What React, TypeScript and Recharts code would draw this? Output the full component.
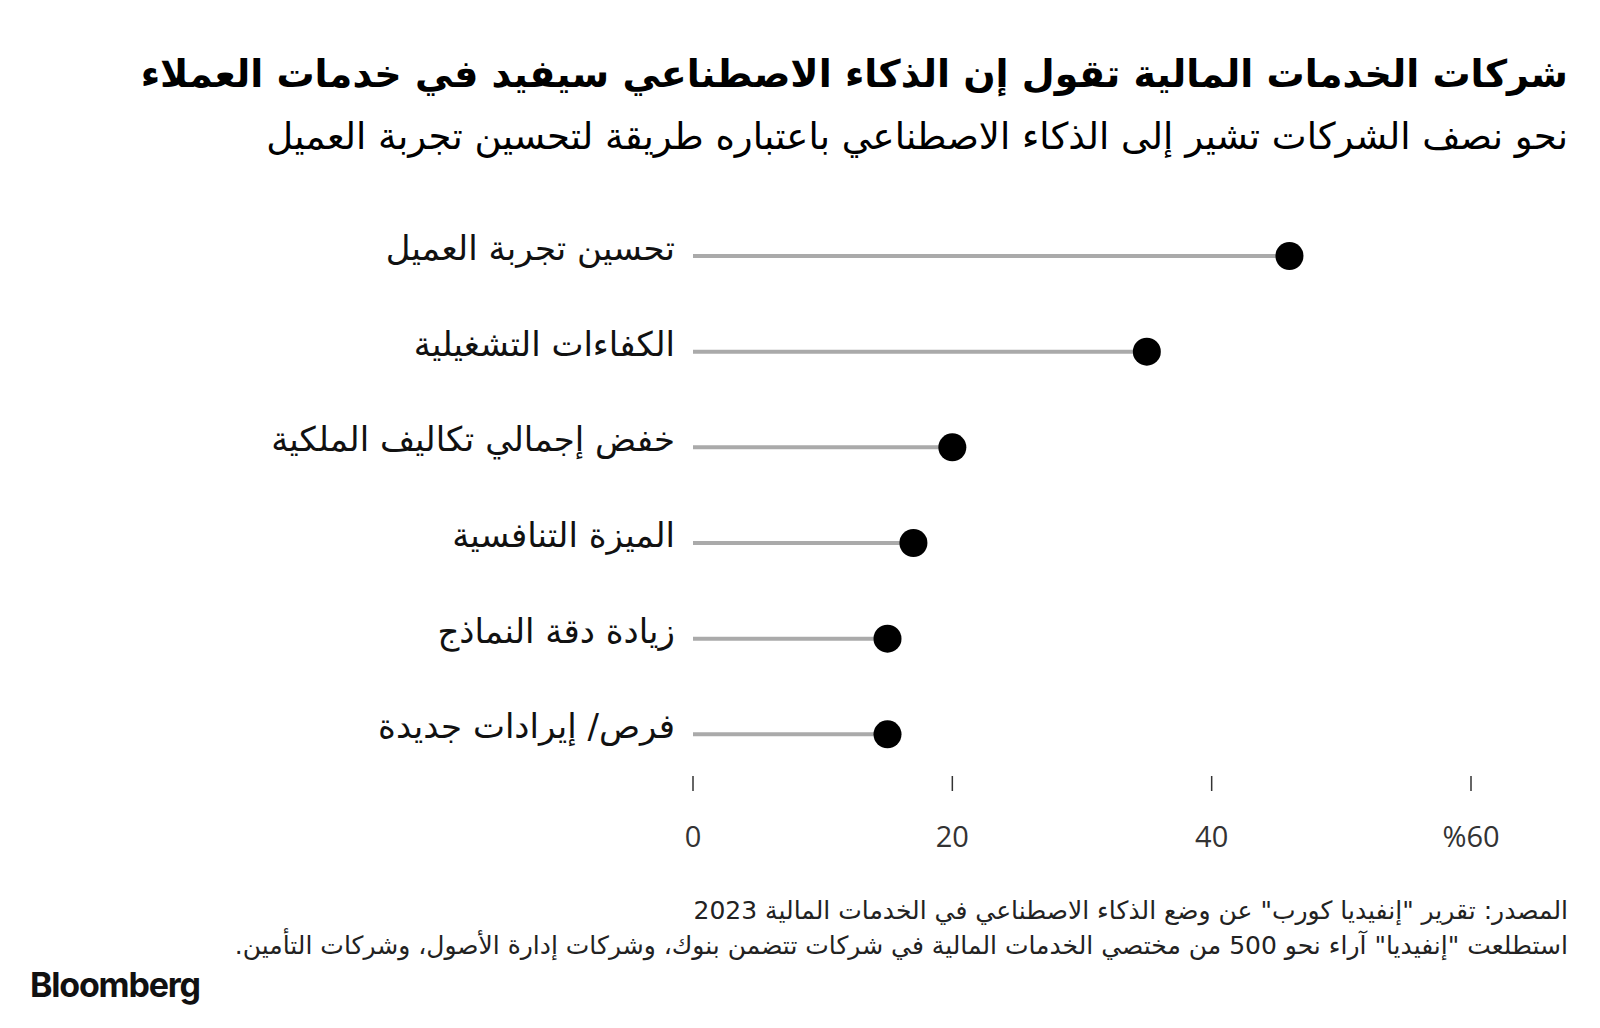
import { ComposedChart, Bar, XAxis, YAxis } from "recharts";

const categories = [
  "تحسين تجربة العميل",
  "الكفاءات التشغيلية",
  "خفض إجمالي تكاليف الملكية",
  "الميزة التنافسية",
  "زيادة دقة النماذج",
  "فرص/ إيرادات جديدة",
];
const shares = [46, 35, 20, 17, 15, 15];
const xTicks = [0, 20, 40, 60];
const xTickLabels = ["0", "20", "40", "%60"];

const title = "شركات الخدمات المالية تقول إن الذكاء الاصطناعي سيفيد في خدمات العملاء";
const subtitle = "نحو نصف الشركات تشير إلى الذكاء الاصطناعي باعتباره طريقة لتحسين تجربة العميل";
const sourceNote = "المصدر: تقرير \"إنفيديا كورب\" عن وضع الذكاء الاصطناعي في الخدمات المالية 2023";
const surveyNote = "استطلعت \"إنفيديا\" آراء نحو 500 من مختصي الخدمات المالية في شركات تتضمن بنوك، وشركات إدارة الأصول، وشركات التأمين.";

const data = categories.map((name, i) => ({ name, value: shares[i] }));

const arabicFont = "'DejaVu Sans', sans-serif";

// lollipop: grey stem from zero, black dot at the value
function Lollipop(props: any) {
  const { x, y, width, height } = props;
  const cy = y + height / 2;
  return (
    <g>
      <line x1={x} x2={x + width} y1={cy} y2={cy} stroke="#aaaaaa" strokeWidth={4} />
      <circle cx={x + width} cy={cy} r={14} fill="#000" />
    </g>
  );
}

function CategoryTick(props: any) {
  const { x, y, payload } = props;
  return (
    <text x={x - 10} y={y + 4} textAnchor="end" fontSize={34} fill="#111" fontFamily={arabicFont}>
      {payload.value}
    </text>
  );
}

function ValueTick(props: any) {
  const { x, y, index } = props;
  return (
    <g>
      <line x1={x} x2={x} y1={y - 6} y2={y + 9} stroke="#333" strokeWidth={1.5} />
      <text x={x} y={y + 65} textAnchor="middle" fontSize={29} fill="#333" fontFamily="'Open Sans', sans-serif">
        {xTickLabels[index]}
      </text>
    </g>
  );
}

export default function App() {
  return (
    <div style={{ position: "absolute", left: 0, top: 0, width: 1600, height: 1028, background: "#fff", overflow: "hidden" }}>
      <div
        dir="rtl"
        style={{ position: "absolute", right: 32, top: 49, fontFamily: arabicFont, fontWeight: 700, fontSize: 38, color: "#000", whiteSpace: "nowrap", lineHeight: "50px" }}
      >
        {title}
      </div>
      <div
        dir="rtl"
        style={{ position: "absolute", right: 32, top: 112, fontFamily: arabicFont, fontSize: 37, color: "#000", whiteSpace: "nowrap", lineHeight: "50px" }}
      >
        {subtitle}
      </div>

      <div style={{ position: "absolute", left: 0, top: 0 }}>
        <ComposedChart
          width={1600}
          height={900}
          layout="vertical"
          data={data}
          margin={{ top: 208, right: 129, bottom: 38, left: 0 }}
        >
          <XAxis
            type="number"
            domain={[0, 60]}
            ticks={xTicks}
            axisLine={false}
            tickLine={false}
            tickSize={0}
            tickMargin={0}
            height={80}
            tick={<ValueTick />}
          />
          <YAxis
            type="category"
            dataKey="name"
            width={693}
            axisLine={false}
            tickLine={false}
            tick={<CategoryTick />}
          />
          <Bar dataKey="value" barSize={28} shape={<Lollipop />} isAnimationActive={false} />
        </ComposedChart>
      </div>

      <div
        dir="rtl"
        style={{ position: "absolute", right: 32, top: 893, fontFamily: arabicFont, fontSize: 25, color: "#222", whiteSpace: "nowrap", lineHeight: "35px" }}
      >
        <div>{sourceNote}</div>
        <div>{surveyNote}</div>
      </div>
      <div
        style={{ position: "absolute", left: 30, top: 964, fontFamily: "Inter, sans-serif", fontWeight: 700, fontSize: 34, color: "#111", letterSpacing: -1.2 }}
      >
        Bloomberg
      </div>
    </div>
  );
}
